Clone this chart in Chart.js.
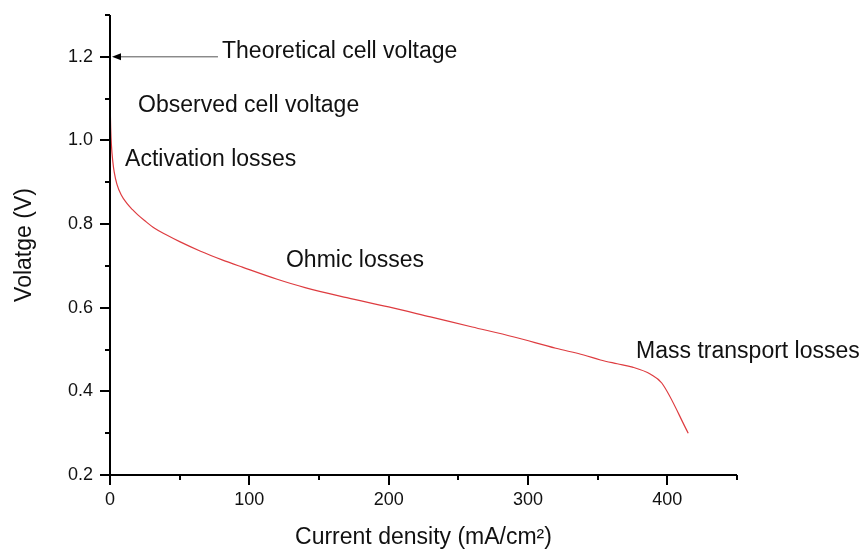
<!DOCTYPE html>
<html>
<head>
<meta charset="utf-8">
<script src="https://cdn.jsdelivr.net/npm/chart.js@4"></script>
<style>
  html, body { margin: 0; padding: 0; background: #fff; }
  #wrap { width: 863px; height: 551px; }
</style>
</head>
<body>
<div id="wrap"><canvas id="polCurve" width="863" height="551"></canvas></div>
<script>
// polarisation curve of the cell
var currentDensity = [0, 0.5, 1, 2, 3, 5, 8, 12, 16, 20, 25, 32, 40, 50, 65, 80, 95,
                      120, 140, 170, 200, 230, 260, 290, 320, 340, 352, 364, 375, 388, 396, 415];
var cellVoltage    = [1.10, 1.03, 0.99, 0.95, 0.925, 0.895, 0.87, 0.85, 0.835, 0.822, 0.808, 0.79, 0.775, 0.758, 0.735, 0.715, 0.697,
                      0.668, 0.648, 0.624, 0.602, 0.578, 0.554, 0.530, 0.503, 0.487, 0.475, 0.466, 0.458, 0.441, 0.420, 0.30];

var theoreticalVoltage = 1.2;
var xTicksMajor = [0, 100, 200, 300, 400];
var yTicksMajor = [0.2, 0.4, 0.6, 0.8, 1.0, 1.2];

var regionNames = ["Observed cell voltage", "Activation losses", "Ohmic losses", "Mass transport losses"];

var fontFamily = "'Liberation Sans', Arial, sans-serif";

// where each text goes, in data units (left edge, baseline)
var notes = [
  { text: "Theoretical cell voltage", x: 80.4, y: 1.198 },
  { text: regionNames[0], x: 20.1, y: 1.068 },
  { text: regionNames[1], x: 10.8, y: 0.939 },
  { text: regionNames[2], x: 126.3, y: 0.698 },
  { text: regionNames[3], x: 377.6, y: 0.480 }
];
var arrowStartX = 77.5;

var points = currentDensity.map(function(x, i) { return { x: x, y: cellVoltage[i] }; });

function isMajor(list, v) {
  for (var i = 0; i < list.length; i++) {
    if (Math.abs(list[i] - v) < 1e-6) return true;
  }
  return false;
}

// axis lines, long/short tick marks, arrow and the text notes
var axisDecor = {
  id: "axisDecor",
  afterDraw: function(chart) {
    var ctx = chart.ctx;
    var area = chart.chartArea;
    var xs = chart.scales.x, ys = chart.scales.y;
    ctx.save();
    ctx.strokeStyle = "#000";
    ctx.lineWidth = 2;
    ctx.lineCap = "butt";

    ctx.beginPath();
    ctx.moveTo(area.left, area.top);
    ctx.lineTo(area.left, area.bottom);
    ctx.lineTo(area.right, area.bottom);
    ctx.stroke();

    ctx.beginPath();
    ys.ticks.forEach(function(t) {
      var py = Math.round(ys.getPixelForValue(t.value));
      var len = isMajor(yTicksMajor, t.value) ? 10 : 5;
      ctx.moveTo(area.left - len, py);
      ctx.lineTo(area.left, py);
    });
    xs.ticks.forEach(function(t) {
      var px = Math.round(xs.getPixelForValue(t.value));
      var len = isMajor(xTicksMajor, t.value) ? 10 : 5;
      ctx.moveTo(px, area.bottom);
      ctx.lineTo(px, area.bottom + len);
    });
    ctx.stroke();

    // arrow pointing at the theoretical voltage
    var ay = ys.getPixelForValue(theoreticalVoltage);
    var ax0 = xs.getPixelForValue(arrowStartX);
    var ax1 = xs.getPixelForValue(0) + 2;
    ctx.strokeStyle = "#555";
    ctx.lineWidth = 1;
    ctx.beginPath();
    ctx.moveTo(ax0, ay);
    ctx.lineTo(ax1 + 6, ay);
    ctx.stroke();
    ctx.fillStyle = "#000";
    ctx.beginPath();
    ctx.moveTo(ax1, ay);
    ctx.lineTo(ax1 + 9, ay - 3.5);
    ctx.lineTo(ax1 + 9, ay + 3.5);
    ctx.closePath();
    ctx.fill();

    ctx.fillStyle = "#111";
    ctx.font = "23px " + fontFamily;
    ctx.textAlign = "left";
    ctx.textBaseline = "alphabetic";
    notes.forEach(function(n) {
      ctx.fillText(n.text, xs.getPixelForValue(n.x), ys.getPixelForValue(n.y));
    });
    ctx.restore();
  }
};

new Chart(document.getElementById("polCurve"), {
  type: "line",
  data: {
    datasets: [{
      data: points,
      borderColor: "rgb(222, 60, 64)",
      borderWidth: 1.2,
      pointRadius: 0,
      cubicInterpolationMode: "monotone",
      fill: false
    }]
  },
  options: {
    responsive: false,
    animation: false,
    layout: { padding: { top: 15, right: 126, bottom: 0, left: 0 } },
    plugins: {
      legend: { display: false },
      tooltip: { enabled: false }
    },
    scales: {
      x: {
        type: "linear",
        min: 0,
        max: 450,
        grid: { display: false, drawTicks: false },
        border: { display: false },
        afterFit: function(scale) {
          scale.height = 76;
          scale.paddingLeft = 0;
          scale.paddingRight = 0;
        },
        ticks: {
          stepSize: 50,
          maxRotation: 0,
          autoSkip: false,
          padding: 14,
          color: "#111",
          font: { family: fontFamily, size: 18 },
          callback: function(v) { return isMajor(xTicksMajor, v) ? String(v) : ""; }
        },
        title: {
          display: true,
          text: "Current density (mA/cm²)",
          color: "#111",
          padding: 0,
          font: { family: fontFamily, size: 23 }
        }
      },
      y: {
        type: "linear",
        min: 0.2,
        max: 1.3,
        grid: { display: false, drawTicks: false },
        border: { display: false },
        afterFit: function(scale) {
          scale.width = 110;
          // keep the plot top fixed by the layout padding only
          scale.paddingTop = 0;
          scale.paddingBottom = 0;
        },
        ticks: {
          stepSize: 0.1,
          autoSkip: false,
          padding: 17,
          color: "#111",
          font: { family: fontFamily, size: 18 },
          callback: function(v) { return isMajor(yTicksMajor, v) ? v.toFixed(1) : ""; }
        },
        title: {
          display: true,
          text: "Volatge (V)",
          color: "#111",
          padding: { top: 11, bottom: 0 },
          font: { family: fontFamily, size: 23 }
        }
      }
    }
  },
  plugins: [axisDecor]
});
</script>
</body>
</html>
